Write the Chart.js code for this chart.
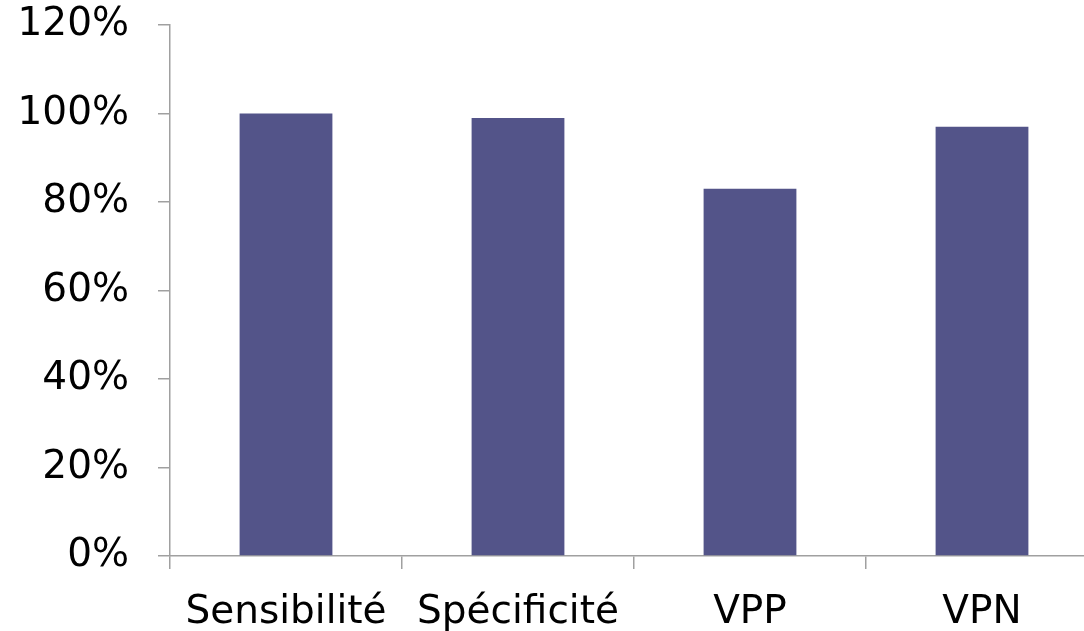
<!DOCTYPE html>
<html>
<head>
<meta charset="utf-8">
<script src="https://cdn.jsdelivr.net/npm/chart.js@4/dist/chart.umd.min.js"></script>
<style>
  html, body { margin: 0; padding: 0; background: #fff; overflow: hidden; }
  #wrap { width: 1100px; height: 631px; }
</style>
</head>
<body>
<div id="wrap"><canvas id="chart"></canvas></div>
<script>
const categories = ["Sensibilité", "Spécificité", "VPP", "VPN"];
const values = [100, 99, 83, 97];
const yTicks = [0, 20, 40, 60, 80, 100, 120];

const axisColor = '#a0a0a0';
const font = { family: "'DejaVu Sans', sans-serif", size: 39 };

new Chart(document.getElementById('chart'), {
    type: 'bar',
    data: {
        labels: categories,
        datasets: [{
            data: values,
            backgroundColor: '#535489',
            barPercentage: 0.4,
            categoryPercentage: 1.0
        }]
    },
    options: {
        responsive: true,
        maintainAspectRatio: false,
        animation: false,
        layout: { padding: { top: 25, right: 2, left: 0, bottom: 0 } },
        plugins: { legend: { display: false }, tooltip: { enabled: false } },
        scales: {
            x: {
                grid: { display: true, drawOnChartArea: false, offset: true, color: axisColor, tickLength: 13, lineWidth: 1.5 },
                border: { color: axisColor, width: 1.5 },
                ticks: { color: '#000', font: font, padding: 20 },
                afterFit: s => { s.height = 75; s.paddingLeft = 0; s.paddingRight = 0; }
            },
            y: {
                min: 0,
                max: 120,
                afterBuildTicks: s => { s.ticks = yTicks.map(v => ({ value: v })); },
                grid: { display: true, drawOnChartArea: false, color: axisColor, tickLength: 12, lineWidth: 1.5 },
                border: { color: axisColor, width: 1.5 },
                ticks: { color: '#000', font: font, padding: 29, callback: v => v + '%' },
                afterFit: s => { s.width = 170; s.paddingTop = 0; s.paddingBottom = 0; }
            }
        }
    }
});
</script>
</body>
</html>
